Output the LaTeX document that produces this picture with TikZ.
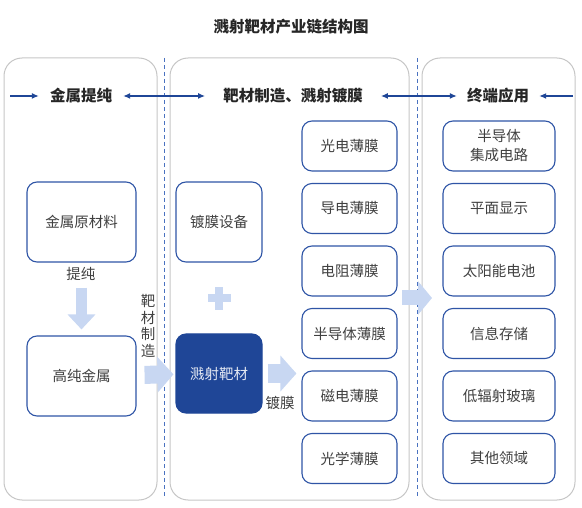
\documentclass[tikz,border=0pt]{standalone}
\usepackage{fontspec}
\newfontfamily\cjk{Noto Sans CJK SC}
\usetikzlibrary{arrows.meta,positioning}
\definecolor{boxblue}{HTML}{2F55A6}
\definecolor{deepblue}{HTML}{1F4697}
\definecolor{paleblue}{HTML}{C8D7F2}
\definecolor{panelgray}{HTML}{C6C6C6}
\definecolor{dashblue}{HTML}{4A72C0}
\definecolor{txtgray}{HTML}{404040}

\begin{document}
\begin{tikzpicture}[x=1pt,y=-1pt,
  every node/.style={font=\cjk\fontsize{14.5}{19}\selectfont, text=txtgray},
  panel/.style={draw=panelgray, line width=1pt, rounded corners=18pt},
  box/.style={draw=boxblue, line width=1.1pt, rounded corners=10pt, fill=white, align=center, inner sep=0pt},
  head/.style={font=\cjk\bfseries\fontsize{15.5}{18}\selectfont, text=black!85, inner ysep=0pt},
  link/.style={draw=deepblue, line width=1.2pt},
  fat/.style={draw=paleblue, line width=#1},
  divider/.style={draw=dashblue, line width=1pt, dash pattern=on 4pt off 3pt}]
\useasboundingbox (0,0) rectangle (582,508);

\node[head] (title) at (291,27) {溅射靶材产业链结构图};

\draw[panel] (4,58) rectangle (157,500);
\draw[panel] (170,58) rectangle (409,500);
\draw[panel] (422,58) rectangle (575,500);
\draw[divider] (164,58) -- (164,497);
\draw[divider] (417,58) -- (417,497);

\node[head, inner xsep=11pt] (hdMetal) at (81,96) {金属提纯};
\node[head, inner xsep=18pt] (hdTarget) at (293,96) {靶材制造、溅射镀膜};
\node[head, inner xsep=10pt] (hdApp) at (498,96) {终端应用};
\coordinate (inL) at (10,96);
\coordinate (inR) at (573,96);
\draw[link, -{Latex[length=7pt,width=6pt]}] (inL) -- (hdMetal);
\draw[link, {Latex[length=7pt,width=6pt]}-{Latex[length=7pt,width=6pt]}] (hdMetal) -- (hdTarget);
\draw[link, {Latex[length=7pt,width=6pt]}-{Latex[length=7pt,width=6pt]}] (hdTarget) -- (hdApp);
\draw[link, -{Latex[length=7pt,width=6pt]}] (inR) -- (hdApp);

\node[box, minimum width=109pt, minimum height=80pt] (raw) at (81.5,222) {金属原材料};
\node[box, minimum width=109pt, minimum height=80pt] (pure) at (81.5,376) {高纯金属};
\node[box, minimum width=86pt, minimum height=80pt] (equip) at (219,222) {镀膜设备};
\node[box, minimum width=86pt, minimum height=79pt, fill=deepblue, draw=deepblue, text=white!88!deepblue] (target) at (219,373.5) {溅射靶材};

\node[box, minimum width=95pt, minimum height=50pt] (fPhoto) at (349.5,146) {光电薄膜};
\node[box, minimum width=95pt, minimum height=50pt] (fCond) at (349.5,208.5) {导电薄膜};
\node[box, minimum width=95pt, minimum height=50pt] (fResist) at (349.5,271) {电阻薄膜};
\node[box, minimum width=95pt, minimum height=50pt] (fSemi) at (349.5,333.5) {半导体薄膜};
\node[box, minimum width=95pt, minimum height=50pt] (fMagnet) at (349.5,396) {磁电薄膜};
\node[box, minimum width=95pt, minimum height=50pt] (fOptic) at (349.5,458.5) {光学薄膜};

\node[box, minimum width=112pt, minimum height=50pt] (aChip) at (499,146) {半导体\\集成电路};
\node[box, minimum width=112pt, minimum height=50pt] (aPanel) at (499,208.5) {平面显示};
\node[box, minimum width=112pt, minimum height=50pt] (aSolar) at (499,271) {太阳能电池};
\node[box, minimum width=112pt, minimum height=50pt] (aStore) at (499,333.5) {信息存储};
\node[box, minimum width=112pt, minimum height=50pt] (aGlass) at (499,396) {低辐射玻璃};
\node[box, minimum width=112pt, minimum height=50pt] (aOther) at (499,458.5) {其他领域};

\draw[fat=11pt, -{Triangle[length=15pt,width=27pt]}, shorten <=25pt, shorten >=6pt] (raw) -- (pure);
\draw[fat=18pt, -{Triangle[length=16pt,width=35pt]}, shorten <=8pt, shorten >=2pt] (pure) -- (target);
\draw[fat=18pt, -{Triangle[length=16pt,width=35pt]}, shorten <=5pt, shorten >=5pt] (target.east) -- (target.east -| fMagnet.west);
\coordinate (outB) at (402,298);
\coordinate (inC) at (432,298);
\draw[fat=15pt, -{Triangle[length=14pt,width=33pt]}] (outB) -- (inC);

\fill[paleblue] (208,294) rectangle (231,302);
\fill[paleblue] (215,287) rectangle (223,310);

\node (lblPurify) at (81,274) {提纯};
\node[align=center, font=\cjk\fontsize{14.5}{16.5}\selectfont] (lblMake) at (148,326) {靶\\材\\制\\造};
\node (lblCoat) at (280,403) {镀膜};
\end{tikzpicture}
\end{document}
